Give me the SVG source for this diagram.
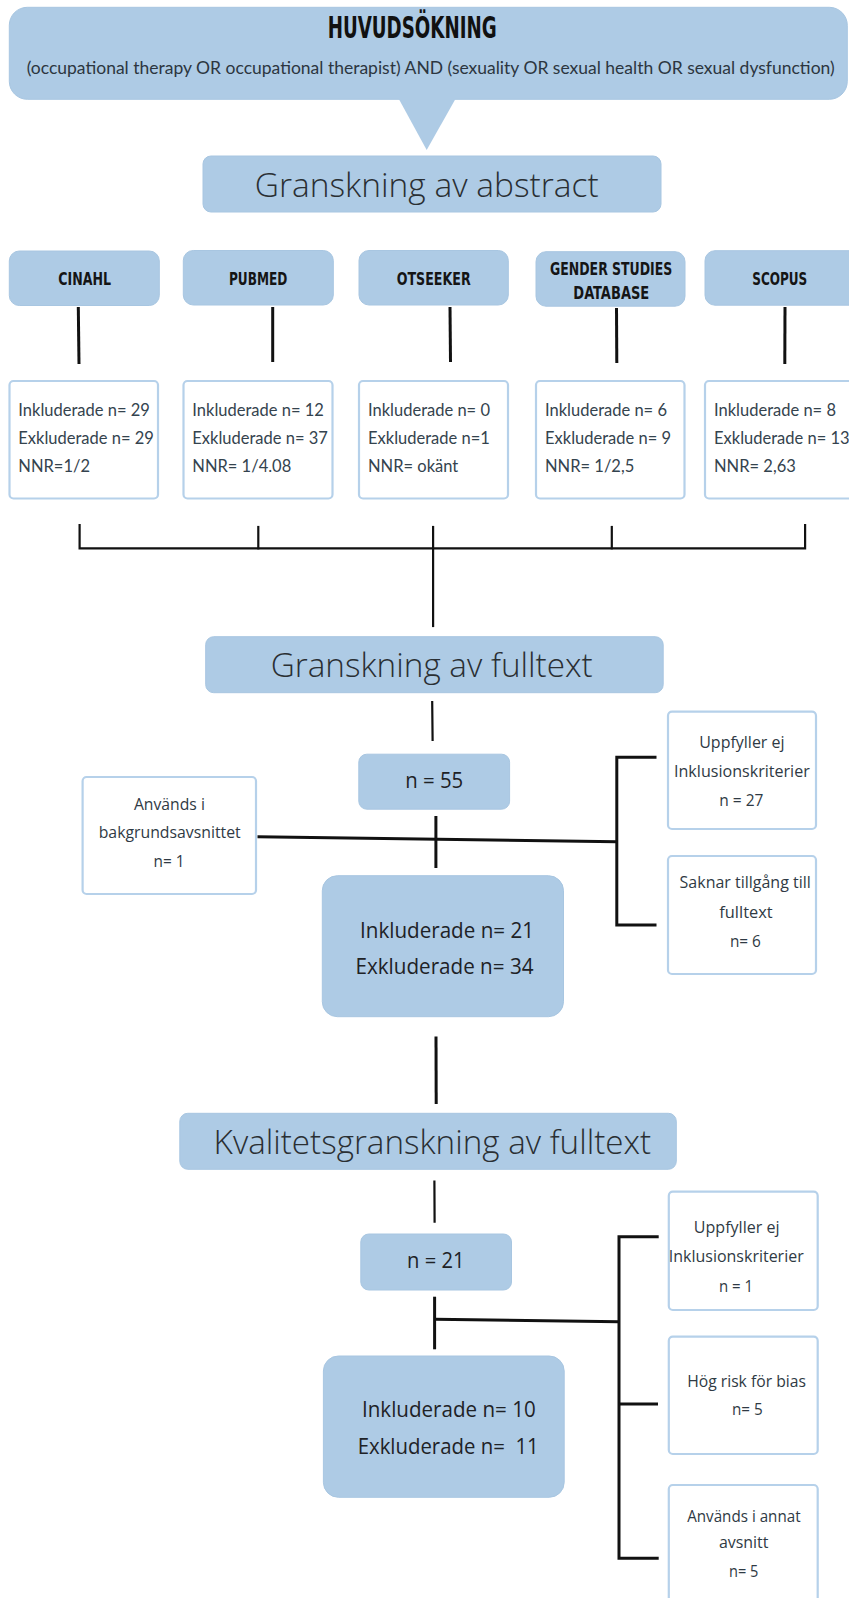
<svg xmlns="http://www.w3.org/2000/svg" width="849" height="1598" viewBox="0 0 849 1598">
<style>
.blue{fill:#aecbe5;stroke:#a8c6e1;stroke-width:1}
.wbox{fill:#ffffff;stroke:#b6d1ea;stroke-width:2.2}
.ln{stroke:#111;stroke-width:2.2;fill:none;stroke-linecap:square}
.lnb{stroke:#111;stroke-width:3;fill:none}
.title{font-family:"Liberation Sans Narrow","DejaVu Sans Condensed","DejaVu Sans",sans-serif;font-weight:bold;fill:#111}
.db{font-family:"Liberation Sans Narrow","DejaVu Sans Condensed","DejaVu Sans",sans-serif;font-weight:bold;font-size:17px;fill:#151515}
.sub{font-family:Lato,"Liberation Sans",sans-serif;font-size:16.5px;fill:#2c3640}
.head{font-family:"Open Sans","Liberation Sans",sans-serif;font-weight:300;font-size:33px;fill:#2a2f33}
.res{font-family:Lato,"Liberation Sans",sans-serif;font-size:16.5px;fill:#34434e}
.side{font-family:"Open Sans","Liberation Sans",sans-serif;font-size:15.5px;fill:#2f3a44}
.cnt{font-family:"Open Sans","Liberation Sans",sans-serif;font-size:21px;fill:#1e2226;white-space:pre}
</style>

<g id="huvudsokning">
<rect class="blue" x="9.3" y="7.3" width="838" height="92" rx="18"/>
<polygon points="398.3,98 456,98 426.7,150" fill="#aecbe5"/>
<text class="title" x="327.7" y="38.3" font-size="31" textLength="169" lengthAdjust="spacingAndGlyphs">HUVUDSÖKNING</text>
<text class="sub" x="26.7" y="74" textLength="808" lengthAdjust="spacingAndGlyphs">(occupational therapy OR occupational therapist) AND (sexuality OR sexual health OR sexual dysfunction)</text>
</g>

<g id="granskning-abstract">
<rect class="blue" x="203" y="156" width="458" height="56" rx="8"/>
<text class="head" x="254.7" y="196.7" textLength="344" lengthAdjust="spacingAndGlyphs">Granskning av abstract</text>
</g>

<g id="db-cinahl">
<rect class="blue" x="9.3" y="251" width="150" height="54.5" rx="10"/>
<text class="db" x="58.3" y="285" textLength="52.7" lengthAdjust="spacingAndGlyphs">CINAHL</text>
</g>
<g id="db-pubmed">
<rect class="blue" x="183.3" y="250.5" width="150" height="54.5" rx="10"/>
<text class="db" x="229" y="285" textLength="58.3" lengthAdjust="spacingAndGlyphs">PUBMED</text>
</g>
<g id="db-otseeker">
<rect class="blue" x="359" y="250.5" width="149.3" height="54.5" rx="10"/>
<text class="db" x="396.7" y="285" textLength="74" lengthAdjust="spacingAndGlyphs">OTSEEKER</text>
</g>
<g id="db-gender">
<rect class="blue" x="536" y="251.7" width="149" height="54.5" rx="10"/>
<text class="db" x="550" y="275" textLength="122.3" lengthAdjust="spacingAndGlyphs">GENDER STUDIES</text>
<text class="db" x="573.3" y="299.3" textLength="76" lengthAdjust="spacingAndGlyphs">DATABASE</text>
</g>
<g id="db-scopus">
<rect class="blue" x="705" y="250.7" width="160" height="54.5" rx="10"/>
<text class="db" x="752.3" y="285" textLength="55" lengthAdjust="spacingAndGlyphs">SCOPUS</text>
</g>

<g id="res-cinahl">
<rect class="wbox" x="9.5" y="381" width="148.5" height="117.5" rx="4"/>
<text class="res" x="18.3" y="415.7">Inkluderade n= 29</text>
<text class="res" x="18.3" y="444">Exkluderade n= 29</text>
<text class="res" x="18.3" y="472.3">NNR=1/2</text>
</g>
<g id="res-pubmed">
<rect class="wbox" x="183.5" y="381" width="149" height="117.5" rx="4"/>
<text class="res" x="192.3" y="415.7">Inkluderade n= 12</text>
<text class="res" x="192.3" y="444">Exkluderade n= 37</text>
<text class="res" x="192.3" y="472.3">NNR= 1/4.08</text>
</g>
<g id="res-otseeker">
<rect class="wbox" x="359" y="381" width="149" height="117.5" rx="4"/>
<text class="res" x="368" y="415.7">Inkluderade n= 0</text>
<text class="res" x="368" y="444">Exkluderade n=1</text>
<text class="res" x="368" y="472.3">NNR= okänt</text>
</g>
<g id="res-gender">
<rect class="wbox" x="536" y="381" width="148.5" height="117.5" rx="4"/>
<text class="res" x="545" y="415.7">Inkluderade n= 6</text>
<text class="res" x="545" y="444">Exkluderade n= 9</text>
<text class="res" x="545" y="472.3">NNR= 1/2,5</text>
</g>
<g id="res-scopus">
<rect class="wbox" x="705" y="381" width="160" height="117.5" rx="4"/>
<text class="res" x="714" y="415.7">Inkluderade n= 8</text>
<text class="res" x="714" y="444">Exkluderade n= 13</text>
<text class="res" x="714" y="472.3">NNR= 2,63</text>
</g>

<g id="granskning-fulltext">
<rect class="blue" x="205.7" y="636.7" width="457.5" height="56" rx="8"/>
<text class="head" x="270.7" y="676.7" textLength="322" lengthAdjust="spacingAndGlyphs">Granskning av fulltext</text>
</g>

<g id="n55">
<rect class="blue" x="358.8" y="754.2" width="150.8" height="55" rx="8"/>
<text class="cnt" x="405.2" y="788" textLength="58" lengthAdjust="spacingAndGlyphs">n = 55</text>
</g>

<g id="bakgrund">
<rect class="wbox" x="82.6" y="777" width="173.4" height="117" rx="4"/>
<text class="side" x="133.9" y="810" textLength="71" lengthAdjust="spacingAndGlyphs">Används i</text>
<text class="side" x="98.7" y="838" textLength="142" lengthAdjust="spacingAndGlyphs">bakgrundsavsnittet</text>
<text class="side" x="153.5" y="866.7" textLength="31" lengthAdjust="spacingAndGlyphs">n= 1</text>
</g>

<g id="uppfyller-1">
<rect class="wbox" x="668" y="711.7" width="148" height="117.3" rx="4"/>
<text class="side" x="699.2" y="748" textLength="85.4" lengthAdjust="spacingAndGlyphs">Uppfyller ej</text>
<text class="side" x="674" y="776.7" textLength="135.8" lengthAdjust="spacingAndGlyphs">Inklusionskriterier</text>
<text class="side" x="719.3" y="806" textLength="44.2" lengthAdjust="spacingAndGlyphs">n = 27</text>
</g>

<g id="saknar">
<rect class="wbox" x="668" y="856" width="148" height="118" rx="4"/>
<text class="side" x="679.6" y="888.3" textLength="131.2" lengthAdjust="spacingAndGlyphs">Saknar tillgång till</text>
<text class="side" x="719.3" y="918.3" textLength="53.3" lengthAdjust="spacingAndGlyphs">fulltext</text>
<text class="side" x="729.9" y="946.7" textLength="31" lengthAdjust="spacingAndGlyphs">n= 6</text>
</g>

<g id="resultat-1">
<rect class="blue" x="322.3" y="875.7" width="241.2" height="141" rx="15"/>
<text class="cnt" x="360" y="938.3" textLength="174" lengthAdjust="spacingAndGlyphs">Inkluderade n= 21</text>
<text class="cnt" x="355.5" y="974" textLength="178" lengthAdjust="spacingAndGlyphs">Exkluderade n= 34</text>
</g>

<g id="kvalitetsgranskning">
<rect class="blue" x="179.8" y="1113.3" width="496.5" height="56" rx="8"/>
<text class="head" x="213.6" y="1154" textLength="437.6" lengthAdjust="spacingAndGlyphs">Kvalitetsgranskning av fulltext</text>
</g>

<g id="n21">
<rect class="blue" x="360.8" y="1234" width="150.7" height="56" rx="8"/>
<text class="cnt" x="407" y="1268.3" textLength="57.5" lengthAdjust="spacingAndGlyphs">n = 21</text>
</g>

<g id="uppfyller-2">
<rect class="wbox" x="668.8" y="1191.7" width="148.9" height="118.3" rx="4"/>
<text class="side" x="693.8" y="1233.3" textLength="85.7" lengthAdjust="spacingAndGlyphs">Uppfyller ej</text>
<text class="side" x="668.8" y="1261.7" textLength="134.9" lengthAdjust="spacingAndGlyphs">Inklusionskriterier</text>
<text class="side" x="718.9" y="1291.7" textLength="34.2" lengthAdjust="spacingAndGlyphs">n = 1</text>
</g>

<g id="bias">
<rect class="wbox" x="668.8" y="1336.7" width="148.9" height="117.3" rx="4"/>
<text class="side" x="687.2" y="1387.3" textLength="118.7" lengthAdjust="spacingAndGlyphs">Hög risk för bias</text>
<text class="side" x="732" y="1415" textLength="30.8" lengthAdjust="spacingAndGlyphs">n= 5</text>
</g>

<g id="annat">
<rect class="wbox" x="668.8" y="1485" width="148.9" height="130" rx="4"/>
<text class="side" x="687.2" y="1521.7" textLength="113.4" lengthAdjust="spacingAndGlyphs">Används i annat</text>
<text class="side" x="718.9" y="1548.3" textLength="49.6" lengthAdjust="spacingAndGlyphs">avsnitt</text>
<text class="side" x="729" y="1576.7" textLength="29.4" lengthAdjust="spacingAndGlyphs">n= 5</text>
</g>

<g id="resultat-2">
<rect class="blue" x="323.4" y="1356" width="240.8" height="141.3" rx="15"/>
<text class="cnt" x="362" y="1417.3" textLength="173.7" lengthAdjust="spacingAndGlyphs">Inkluderade n= 10</text>
<text class="cnt" x="357.7" y="1454" textLength="181" lengthAdjust="spacingAndGlyphs">Exkluderade n=  11</text>
</g>

<g id="connectors">
<line class="lnb" x1="78.3" y1="307" x2="79" y2="364"/>
<line class="lnb" x1="272.7" y1="307" x2="272.7" y2="362"/>
<line class="lnb" x1="450" y1="307" x2="450.5" y2="362"/>
<line class="lnb" x1="616.5" y1="308" x2="616.8" y2="363"/>
<line class="lnb" x1="785" y1="307" x2="784.8" y2="364"/>
<polyline class="ln" points="79.6,525 79.6,548.3 805.1,548.3 805.1,525"/>
<line class="ln" x1="258.3" y1="527" x2="258.3" y2="548.3"/>
<line class="ln" x1="611.8" y1="527" x2="611.8" y2="548.3"/>
<line class="ln" x1="433.1" y1="527" x2="433.1" y2="626"/>
<line class="ln" x1="432.2" y1="702" x2="432.6" y2="740"/>
<line class="lnb" x1="257.5" y1="836.7" x2="616.8" y2="841.7"/>
<line class="lnb" x1="435.9" y1="816" x2="435.9" y2="868"/>
<polyline class="lnb" points="656.5,757.3 616.8,757.3 616.8,925 656.5,925"/>
<line class="lnb" x1="436" y1="1036.5" x2="436.2" y2="1104"/>
<line class="ln" x1="434.4" y1="1181.7" x2="434.6" y2="1221.7"/>
<line class="lnb" x1="434.6" y1="1296.7" x2="434.6" y2="1349.3"/>
<line class="lnb" x1="434.6" y1="1319.3" x2="619" y2="1321.7"/>
<polyline class="lnb" points="658.7,1236.7 619,1236.7 619,1558.3 658.7,1558.3"/>
<line class="lnb" x1="619" y1="1404" x2="658" y2="1404"/>
</g>
</svg>
